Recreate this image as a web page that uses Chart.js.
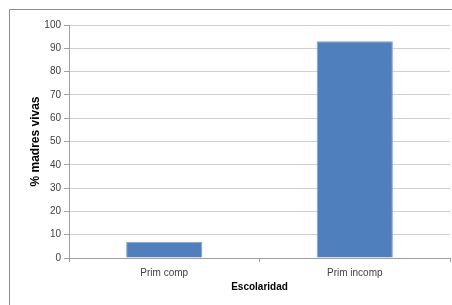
<!DOCTYPE html>
<html>
<head>
<meta charset="utf-8">
<script src="https://cdn.jsdelivr.net/npm/chart.js@4/dist/chart.umd.min.js"></script>
<style>
  html, body { margin: 0; padding: 0; background: #fff; }
  #wrap { width: 452px; height: 305px; }
</style>
</head>
<body>
<div id="wrap"><canvas id="grafico" width="452" height="305"></canvas></div>
<script>
// datos
const categorias = ["Prim comp", "Prim incomp"];
const valores = [7, 93];
const ticksY = [0, 10, 20, 30, 40, 50, 60, 70, 80, 90, 100];

// marco gris arriba y a la izquierda
const marco = {
    id: "marco",
    beforeDraw(chart) {
        const ctx = chart.ctx;
        ctx.save();
        ctx.strokeStyle = "#8c8c8c";
        ctx.lineWidth = 1;
        ctx.beginPath();
        ctx.moveTo(9.5, 305);
        ctx.lineTo(9.5, 9.5);
        ctx.lineTo(452, 9.5);
        ctx.stroke();
        ctx.restore();
    }
};

new Chart(document.getElementById("grafico"), {
    type: "bar",
    data: {
        labels: categorias,
        datasets: [{
            label: "% madres vivas",
            data: valores,
            backgroundColor: "#4f7fbc",
            borderColor: "#7da2d0",
            borderWidth: 1,
            barPercentage: 0.4,
            categoryPercentage: 1
        }]
    },
    options: {
        responsive: false,
        animation: false,
        layout: { padding: { left: 28, right: 2, top: 25, bottom: 8 } },
        plugins: {
            legend: { display: false },
            tooltip: { enabled: false }
        },
        scales: {
            y: {
                min: 0,
                max: 100,
                afterBuildTicks: s => { s.ticks = ticksY.map(v => ({ value: v })); },
                afterFit: s => { s.width = 41; },
                ticks: {
                    color: "#404040",
                    font: { family: "Liberation Sans", size: 10 },
                    padding: 3
                },
                grid: {
                    color: "#d0d0d0",
                    tickLength: 5,
                    tickColor: "#a0a0a0"
                },
                border: { color: "#a0a0a0" },
                title: {
                    display: true,
                    text: "% madres vivas",
                    color: "#000",
                    font: { family: "Liberation Sans", size: 12, weight: "bold" },
                    padding: 0
                }
            },
            x: {
                afterFit: s => { s.height = 39; },
                ticks: {
                    color: "#404040",
                    font: { family: "Liberation Sans", size: 10 },
                    padding: 5
                },
                grid: {
                    offset: true,
                    drawOnChartArea: false,
                    tickLength: 4,
                    color: "#a0a0a0"
                },
                border: { color: "#a0a0a0" },
                title: {
                    display: true,
                    text: "Escolaridad",
                    color: "#000",
                    font: { family: "Liberation Sans", size: 10, weight: "bold" },
                    padding: { top: 7 }
                }
            }
        }
    },
    plugins: [marco]
});
</script>
</body>
</html>
